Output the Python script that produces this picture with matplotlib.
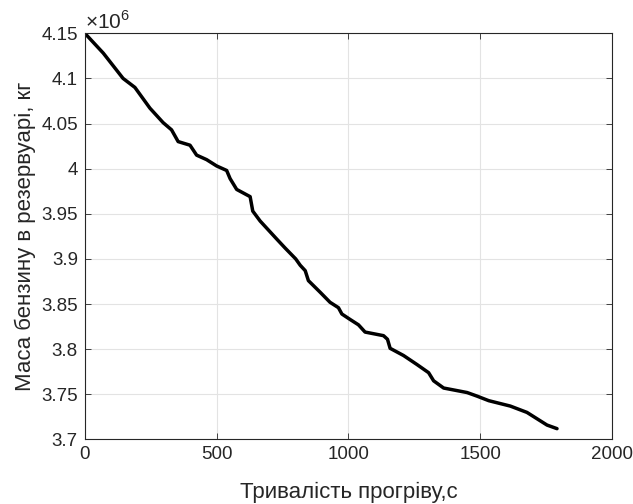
import matplotlib
matplotlib.use("Agg")
import matplotlib.pyplot as plt
from matplotlib.ticker import FuncFormatter

plt.rcParams['font.family'] = ['Liberation Sans', 'DejaVu Sans']
plt.rcParams['mathtext.fontset'] = 'custom'
plt.rcParams['mathtext.rm'] = 'Liberation Sans'

# тривалість прогріву, с
t = [0, 70, 145, 190, 247, 297, 329, 354, 399, 424, 462, 500, 538, 551, 576,
     627, 637, 665, 728, 760, 800, 817, 836, 848, 893, 930, 962, 975, 1006,
     1038, 1063, 1133, 1148, 1158, 1209, 1260, 1304, 1323, 1361, 1450, 1488,
     1532, 1614, 1677, 1753, 1791]
# маса бензину, x10^6 кг
m = [4.150, 4.128, 4.100, 4.090, 4.067, 4.051, 4.043, 4.030, 4.026, 4.015,
     4.010, 4.003, 3.998, 3.989, 3.977, 3.969, 3.953, 3.942, 3.922, 3.912,
     3.900, 3.893, 3.887, 3.876, 3.863, 3.852, 3.846, 3.839, 3.833, 3.827,
     3.819, 3.815, 3.811, 3.801, 3.793, 3.783, 3.774, 3.765, 3.757, 3.752,
     3.748, 3.743, 3.737, 3.730, 3.716, 3.712]

fig = plt.figure(figsize=(6.33, 5.04), dpi=100)
ax = fig.add_axes([0.134, 0.128, 0.833, 0.806])
ax.plot(t, m, color='black', lw=2.5, solid_capstyle='round', solid_joinstyle='round')

ax.set_xlim(0, 2000)
ax.set_ylim(3.7, 4.15)
ax.set_xticks([0, 500, 1000, 1500, 2000])
ax.set_yticks([3.7, 3.75, 3.8, 3.85, 3.9, 3.95, 4.0, 4.05, 4.1, 4.15])
ax.yaxis.set_major_formatter(FuncFormatter(lambda v, p: f"{v:g}"))
ax.grid(True, color='#e3e3e3', lw=0.8)
ax.tick_params(direction='in', top=True, right=True, labelsize=13.5,
               colors='#262626', length=4, width=0.6, pad=5)
for s in ax.spines.values():
    s.set_color('#262626')
    s.set_linewidth(0.8)

ax.text(0.0, 1.002, r'$\times10^{6}$', transform=ax.transAxes,
        fontsize=15, color='#262626', va='bottom', ha='left')
ax.set_xlabel('Тривалість прогріву,с', fontsize=16, color='#262626', labelpad=13)
ax.set_ylabel('Маса бензину в резервуарі, кг', fontsize=16, color='#262626', labelpad=4)

fig.savefig('out.png', dpi=100)
